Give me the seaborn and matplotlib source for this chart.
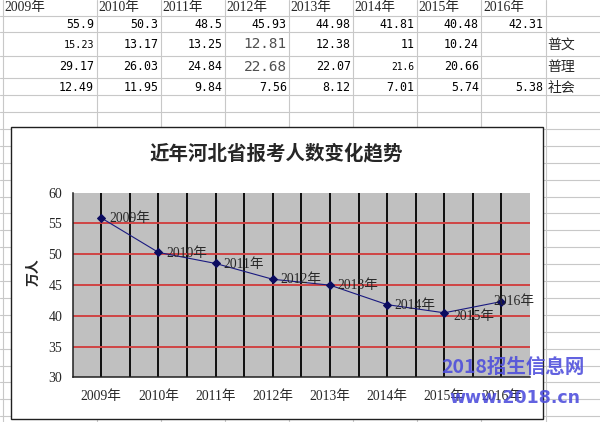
import numpy as np
import pandas as pd
import matplotlib
matplotlib.use("Agg")
import matplotlib.pyplot as plt
import seaborn as sns
from matplotlib.patches import Rectangle

# ---------------- data ----------------
years = ["2009年", "2010年", "2011年", "2012年", "2013年", "2014年", "2015年", "2016年"]
total = [55.9, 50.3, 48.5, 45.93, 44.98, 41.81, 40.48, 42.31]
puwen = [15.23, 13.17, 13.25, 12.81, 12.38, 11, 10.24, None]
puli = [29.17, 26.03, 24.84, 22.68, 22.07, 21.6, 20.66, None]
shehui = [12.49, 11.95, 9.84, 7.56, 8.12, 7.01, 5.74, 5.38]
row_names = ["普文", "普理", "社会"]
yticks = [30, 35, 40, 45, 50, 55, 60]
title = "近年河北省报考人数变化趋势"
ylabel = "万人"
watermark1 = "2018招生信息网"
watermark2 = "www.2018.cn"

sns.set_style("white")
plt.rcParams["font.family"] = ["Liberation Serif", "Noto Sans CJK SC", "DejaVu Sans"]

W, H = 600, 422
fig = plt.figure(figsize=(6, 4.22), dpi=100)
fig.patch.set_facecolor("white")

# background spreadsheet in pixel coordinates
bg = fig.add_axes([0, 0, 1, 1])
bg.set_xlim(0, W)
bg.set_ylim(H, 0)
bg.axis("off")

grid_c = "#c8c8c8"
col_edges = [3, 96.5, 160.7, 225, 289.3, 353.2, 417.1, 481.4, 545.5]
row_edges = [15.7, 32.3, 55.7, 78.3] + list(np.arange(95.2, H, 16.9))
for x in col_edges:
    bg.plot([x, x], [0, H], color=grid_c, lw=0.8, zorder=1)
for y in row_edges:
    bg.plot([0, W], [y, y], color=grid_c, lw=0.8, zorder=1)

mono = ["DejaVu Sans Mono"]
cjk_serif = ["Liberation Serif", "Noto Sans CJK SC"]
# header row
for i, yr in enumerate(years):
    bg.text(col_edges[i] + 1.5, 8, yr, ha="left", va="center", fontsize=9.8,
            family=cjk_serif, zorder=2)
# value rows
row_y = [24.3, 44.5, 67.0, 87.7]
size_override = {(1, 0): 7.3, (1, 3): 10.4, (2, 3): 10.4, (2, 5): 6.9}
for r, vals in enumerate([total, puwen, puli, shehui]):
    for i, v in enumerate(vals):
        if v is None:
            continue
        fs = size_override.get((r, i), 8.4)
        col = "#505050" if fs > 10 else "black"
        bg.text(col_edges[i + 1] - 2.5, row_y[r], f"{v:g}", ha="right", va="center",
                fontsize=fs, family=mono, color=col, zorder=2)
for r, name in enumerate(row_names):
    bg.text(547.5, row_y[r + 1], name, ha="left", va="center", fontsize=10,
            family=["Noto Sans CJK SC"], zorder=2)

# chart box
bg.add_patch(Rectangle((11, 126.7), 542.6 - 11, 419 - 126.7, facecolor="white",
                       edgecolor="#202020", lw=1.0, zorder=3))
fig.text(276.5 / W, 1 - 153 / H, title, ha="center", va="center", fontsize=14,
         fontweight="bold", family=["Noto Sans CJK SC"])
fig.text(34 / W, 1 - 272 / H, ylabel, ha="center", va="center", rotation=90,
         fontsize=10, fontweight="bold", family=["Noto Sans CJK SC"])

# ---------------- chart ----------------
L, R, T, B = 72.7, 530, 192.7, 377.3
ax = fig.add_axes([L / W, 1 - B / H, (R - L) / W, (B - T) / H])
ax.set_facecolor("#c0c0c0")
df = pd.DataFrame({"year": years, "total": total})
sns.lineplot(data=df, x="year", y="total", ax=ax, sort=False, color="#1a1a80", lw=0.8,
             marker="D", markersize=4.2, markeredgecolor="#0c0c60",
             markerfacecolor="#0c0c60", zorder=5)
ax.set_xlim(-0.5, len(years) - 0.5)
ax.set_ylim(yticks[0], yticks[-1])
ax.set_xticks(np.arange(len(years)))
ax.set_xticklabels(years)
ax.set_xticks(np.arange(0.5, len(years) - 1, 1), minor=True)
ax.set_yticks(yticks)
ax.set_axisbelow(True)
ax.grid(axis="x", which="both", color="black", lw=1.3)
ax.grid(axis="y", which="major", color="#d04444", lw=1.4)
ygl = ax.get_ygridlines()
ygl[0].set_visible(False)
ygl[-1].set_visible(False)
ax.set_xlabel("")
ax.set_ylabel("")
for s in ["top", "right"]:
    ax.spines[s].set_visible(False)
for s in ["left", "bottom"]:
    ax.spines[s].set_color("#202020")
    ax.spines[s].set_linewidth(1.1)
ax.tick_params(axis="both", which="both", length=0)
ax.tick_params(axis="y", pad=7.5, labelsize=10)
ax.tick_params(axis="x", pad=9.5, labelsize=9.8)

offsets = {7: (-5.5, 0.0), 6: (6.3, -2.5)}
for i, (yr, v) in enumerate(zip(years, total)):
    dx, dy = offsets.get(i, (5.6, -0.5))
    ax.annotate(yr, (i, v), xytext=(dx, dy), textcoords="offset points",
                ha="left", va="center", fontsize=9.8, zorder=6)

# watermark
fig.text(513 / W, 1 - 367 / H, watermark1, ha="center", va="center", fontsize=14,
         fontweight="bold", family=["Noto Sans CJK SC"], color="#4c4cdc", alpha=0.88)
fig.text(514.5 / W, 1 - 398 / H, watermark2, ha="center", va="center", fontsize=12.5,
         fontweight="bold", family=["DejaVu Sans"], color="#4c4cdc", alpha=0.88)

fig.savefig("out.png", dpi=100)
